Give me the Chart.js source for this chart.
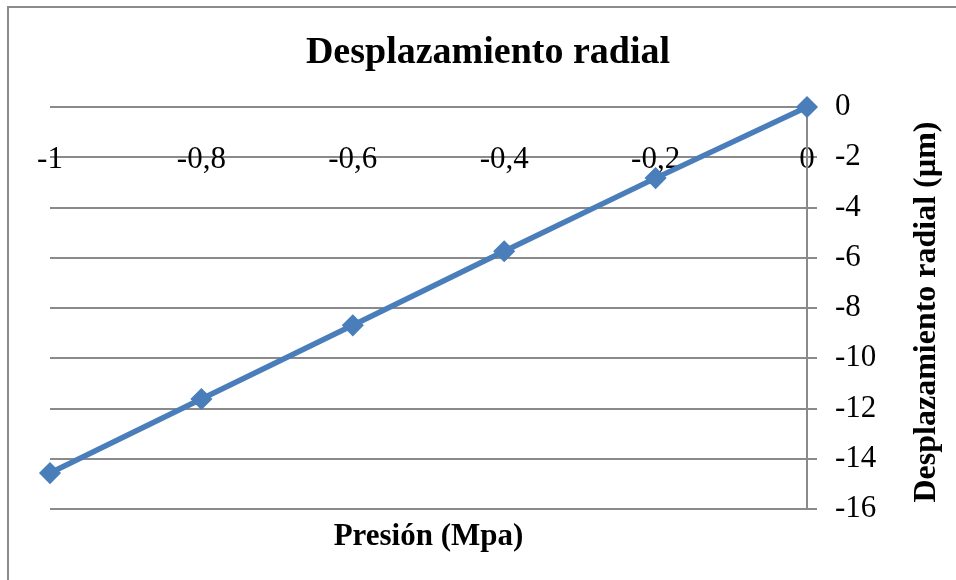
<!DOCTYPE html>
<html>
<head>
<meta charset="utf-8">
<script src="https://cdn.jsdelivr.net/npm/chart.js@4"></script>
<style>
  html, body { margin: 0; padding: 0; background: #ffffff; }
  #wrap { width: 956px; height: 580px; }
</style>
</head>
<body>
<div id="wrap"><canvas id="chart" width="956" height="580"></canvas></div>
<script>
// Radial displacement versus applied pressure
const pressures = [-1, -0.8, -0.6, -0.4, -0.2, 0];
const displacements = [-14.57, -11.62, -8.69, -5.74, -2.83, 0];
const yTicks = [0, -2, -4, -6, -8, -10, -12, -14, -16];

const chartTitle = 'Desplazamiento radial';
const xTitle = 'Presión (Mpa)';
const yTitle = 'Desplazamiento radial (µm)';

const SERIF = '"Liberation Serif", "Times New Roman", serif';
const GRID = '#8a8a8a';
const BLUE = '#4a7ebb';

const points = pressures.map((p, i) => ({ x: p, y: displacements[i] }));

const frame = {
  id: 'frame',
  beforeDraw(chart) {
    const ctx = chart.ctx;
    ctx.save();
    ctx.fillStyle = '#ffffff';
    ctx.fillRect(0, 0, chart.width, chart.height);
    ctx.strokeStyle = '#8c8c8c';
    ctx.lineWidth = 2;
    ctx.strokeRect(8, 7, chart.width + 20, chart.height + 20);
    ctx.restore();
  },
  afterDraw(chart) {
    const ctx = chart.ctx;
    const area = chart.chartArea;
    ctx.save();
    ctx.fillStyle = '#000000';
    ctx.textAlign = 'center';
    ctx.textBaseline = 'alphabetic';
    ctx.font = 'bold 38px ' + SERIF;
    ctx.fillText(chartTitle, 488, 63);
    ctx.font = 'bold 31px ' + SERIF;
    ctx.fillText(xTitle, (area.left + area.right) / 2, 545);
    ctx.font = 'bold 32px ' + SERIF;
    ctx.translate(935, (area.top + area.bottom) / 2 + 4);
    ctx.rotate(-Math.PI / 2);
    ctx.fillText(yTitle, 0, 0);
    ctx.restore();
  }
};

new Chart(document.getElementById('chart'), {
  type: 'line',
  data: {
    datasets: [{
      data: points,
      borderColor: BLUE,
      backgroundColor: BLUE,
      borderWidth: 5.5,
      pointStyle: 'rectRot',
      pointRadius: 10,
      pointBorderWidth: 1.5,
      pointBackgroundColor: BLUE,
      pointBorderColor: BLUE,
      tension: 0,
      clip: false
    }]
  },
  options: {
    responsive: false,
    animation: false,
    events: [],
    layout: { padding: { left: 50, top: 107, right: 0, bottom: 71 } },
    plugins: { legend: { display: false }, tooltip: { enabled: false } },
    scales: {
      x: {
        type: 'linear',
        position: { y: 0 },
        min: -1,
        max: 0,
        grid: { display: false },
        border: { display: false },
        ticks: {
          stepSize: 0.2,
          padding: 26,
          maxRotation: 0,
          autoSkip: false,
          color: '#000000',
          font: { family: SERIF, size: 31 },
          callback: (v) => String(Number(Number(v).toFixed(1))).replace('.', ',')
        }
      },
      y: {
        type: 'linear',
        position: 'right',
        min: yTicks[yTicks.length - 1],
        max: yTicks[0],
        afterFit: (scale) => { scale.width = 149; },
        afterBuildTicks: (scale) => { scale.ticks = yTicks.map(v => ({ value: v })); },
        grid: { color: GRID, lineWidth: 2, drawTicks: true, tickLength: 10 },
        border: { display: true, color: GRID, width: 2 },
        ticks: {
          padding: 18,
          color: '#000000',
          font: { family: SERIF, size: 31 },
          callback: (v) => String(v)
        }
      }
    }
  },
  plugins: [frame]
});
</script>
</body>
</html>
